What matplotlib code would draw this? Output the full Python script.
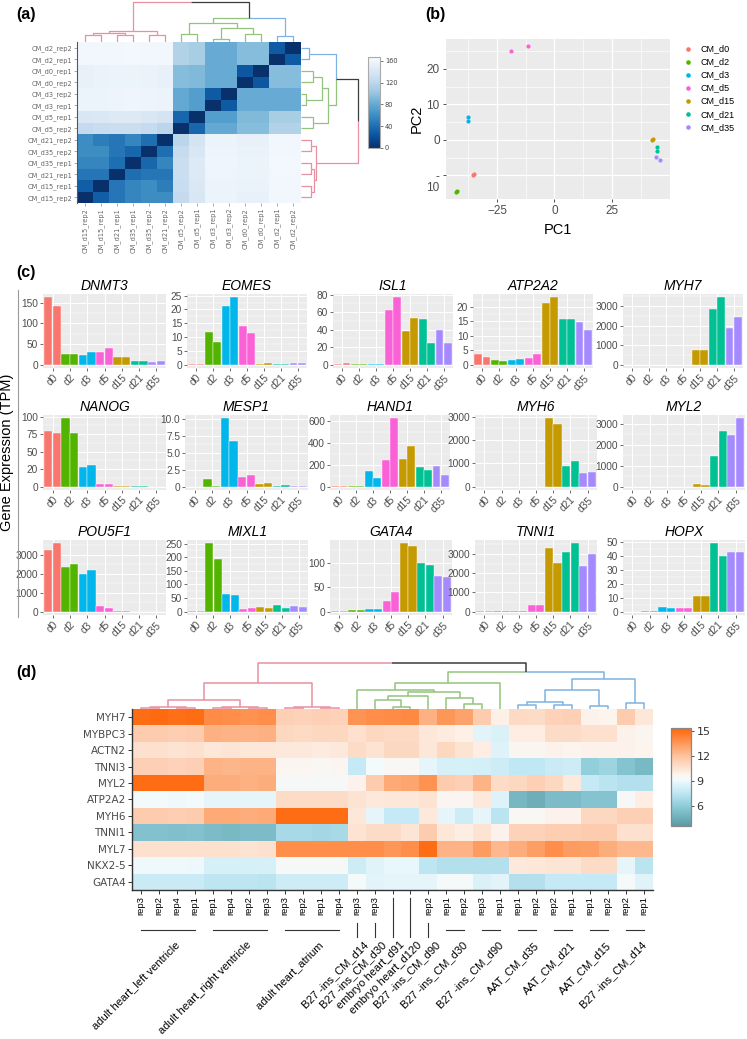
import matplotlib
matplotlib.use('Agg')
import matplotlib.pyplot as plt
import matplotlib.transforms as mtransforms
from matplotlib.colors import LinearSegmentedColormap
import numpy as np

plt.rcParams['font.family'] = ['Liberation Sans', 'DejaVu Sans']

# ---------------- (a) sample distance heatmap ----------------
# leaves in dendrogram order (columns left->right, rows bottom->top)
a_samples = ['CM_d15_rep2', 'CM_d15_rep1', 'CM_d21_rep1', 'CM_d35_rep1', 'CM_d35_rep2',
             'CM_d21_rep2', 'CM_d5_rep2', 'CM_d5_rep1', 'CM_d3_rep1', 'CM_d3_rep2',
             'CM_d0_rep2', 'CM_d0_rep1', 'CM_d2_rep1', 'CM_d2_rep2']
a_dist = [
    [0, 30, 45, 55, 60, 60, 125, 142, 158, 158, 155, 155, 162, 162],
    [30, 0, 45, 55, 60, 50, 128, 143, 158, 158, 156, 156, 162, 162],
    [45, 45, 0, 40, 45, 45, 130, 145, 159, 159, 157, 157, 163, 163],
    [55, 55, 40, 0, 35, 55, 130, 146, 160, 160, 158, 158, 164, 164],
    [60, 60, 45, 35, 0, 40, 126, 142, 159, 159, 156, 156, 163, 163],
    [60, 50, 45, 55, 40, 0, 120, 138, 157, 157, 154, 154, 162, 162],
    [125, 128, 130, 130, 126, 120, 0, 35, 80, 80, 95, 95, 115, 115],
    [142, 143, 145, 146, 142, 138, 35, 0, 72, 72, 92, 92, 110, 110],
    [158, 158, 159, 160, 159, 157, 80, 72, 0, 28, 82, 82, 82, 82],
    [158, 158, 159, 160, 159, 157, 80, 72, 28, 0, 82, 82, 82, 82],
    [155, 156, 157, 158, 156, 154, 95, 92, 82, 82, 0, 25, 95, 95],
    [155, 156, 157, 158, 156, 154, 95, 92, 82, 82, 25, 0, 95, 95],
    [162, 162, 163, 164, 163, 162, 115, 110, 82, 82, 95, 95, 0, 28],
    [162, 162, 163, 164, 163, 162, 115, 110, 82, 82, 95, 95, 28, 0],
]
# merges: (child a, child b, height) ; new nodes numbered after the leaves
a_merges = [(0, 1, 17), (2, 3, 17), (4, 5, 17), (14, 15, 23), (17, 16, 27),
            (8, 9, 8), (10, 11, 21), (6, 7, 21), (19, 20, 36), (21, 22, 47),
            (12, 13, 14), (23, 24, 61), (18, 25, 100)]
PINK, GREEN, BLUE = '#e88fa1', '#93c47d', '#7fb1e2'
a_leaf_colors = [PINK] * 6 + [GREEN] * 6 + [BLUE] * 2

# ---------------- (b) PCA ----------------
pc_groups = ['CM_d0', 'CM_d2', 'CM_d3', 'CM_d5', 'CM_d15', 'CM_d21', 'CM_d35']
pc_colors = ['#F8766D', '#53B400', '#00B6EB', '#FB61D7', '#C49A00', '#00C094', '#A58AFF']
pc1 = [[-35.5, -35.1], [-42.8, -42.3], [-37.6, -37.6], [-19.1, -11.4],
       [42.5, 42.8], [44.5, 44.6], [44.2, 45.9]]
pc2 = [[-9.9, -9.7], [-14.6, -14.3], [6.6, 5.2], [25.2, 26.4],
       [0.0, 0.3], [-2.1, -3.1], [-4.7, -5.7]]

# ---------------- (c) gene expression bars ----------------
days = ['d0', 'd2', 'd3', 'd5', 'd15', 'd21', 'd35']
genes = ['DNMT3', 'EOMES', 'ISL1', 'ATP2A2', 'MYH7',
         'NANOG', 'MESP1', 'HAND1', 'MYH6', 'MYL2',
         'POU5F1', 'MIXL1', 'GATA4', 'TNNI1', 'HOPX']
tpm = {
    'DNMT3': [163, 143, 26, 25, 23, 30, 30, 40, 18, 18, 10, 9, 6, 10],
    'EOMES': [0.05, 0.1, 11.9, 8.3, 21.2, 24.4, 14.1, 11.5, 0.2, 0.6, 0.2, 0.3, 0.5, 0.6],
    'ISL1': [1, 2, 0.2, 0.2, 0.5, 1, 62, 77, 38, 53, 52, 25, 40, 24.5],
    'ATP2A2': [3.6, 2.7, 1.6, 1.2, 1.6, 1.9, 2.4, 3.8, 21.5, 23.3, 15.8, 15.8, 14.6, 12.0],
    'MYH7': [2, 2, 1, 1, 1, 1, 3, 3, 750, 750, 2870, 3450, 1880, 2430],
    'NANOG': [79, 77, 97.6, 77, 28, 31, 3.4, 3.4, 0.3, 0.3, 0.6, 0.6, 0.1, 0.1],
    'MESP1': [0, 0, 1.1, 0.02, 10.1, 6.7, 1.4, 1.7, 0.35, 0.6, 0.02, 0.3, 0.02, 0.02],
    'HAND1': [1, 1, 2, 2, 144, 81, 240, 624, 250, 370, 175, 156, 189, 105],
    'MYH6': [1, 1, 1, 1, 1, 1, 2, 2, 2930, 2690, 880, 1100, 600, 615],
    'MYL2': [1, 1, 1, 1, 1, 1, 1, 1, 145, 96, 1480, 2660, 2455, 3260],
    'POU5F1': [3245, 3595, 2370, 2530, 1970, 2215, 314, 192, 5, 5, 3, 3, 2, 2],
    'MIXL1': [1, 3, 251, 195, 65, 60, 10, 14.6, 18, 13, 23, 12, 19.5, 16],
    'GATA4': [0.5, 1, 3.3, 2.7, 5.3, 5.0, 21, 40, 139, 133, 99, 95, 73, 70],
    'TNNI1': [10, 10, 5, 5, 15, 15, 326, 343, 3290, 2555, 3090, 3550, 2365, 3000],
    'HOPX': [0, 0, 0.3, 0.5, 3.2, 2.7, 2.5, 2.3, 11.5, 11.5, 48.9, 39.6, 43, 43],
}
yticks_c = {
    'DNMT3': [0, 50, 100, 150], 'EOMES': [0, 5, 10, 15, 20, 25], 'ISL1': [0, 20, 40, 60, 80],
    'ATP2A2': [0, 5, 10, 15, 20], 'MYH7': [0, 1000, 2000, 3000], 'NANOG': [0, 25, 50, 75, 100],
    'MESP1': [0, 2.5, 5, 7.5, 10], 'HAND1': [0, 200, 400, 600], 'MYH6': [0, 1000, 2000, 3000],
    'MYL2': [0, 1000, 2000, 3000], 'POU5F1': [0, 1000, 2000, 3000], 'MIXL1': [0, 50, 100, 150, 200, 250],
    'GATA4': [0, 50, 100], 'TNNI1': [0, 1000, 2000, 3000], 'HOPX': [0, 10, 20, 30, 40, 50],
}
ylabels_c = {'NANOG': ['0', '20', '50', '75', '100'],
             'MESP1': ['0', '2.5', '5.0', '7.5', '10.0']}

# ---------------- (d) heart / CM heatmap ----------------
d_genes = ['MYH7', 'MYBPC3', 'ACTN2', 'TNNI3', 'MYL2', 'ATP2A2', 'MYH6', 'TNNI1', 'MYL7', 'NKX2-5', 'GATA4']
d_vals = [
    [15.0, 15.1, 14.9, 15.0, 13.9, 13.8, 13.7, 13.8, 11.3, 11.2, 11.3, 11.2, 13.6, 13.8, 13.9, 14.0, 12.6, 13.5, 13.1, 11.5, 9.9, 10.9, 10.8, 11.2, 11.3, 9.8, 9.7, 11.5, 10.3],
    [11.5, 11.5, 11.4, 11.5, 12.6, 12.5, 12.5, 12.6, 11.0, 10.9, 11.0, 11.0, 10.6, 11.0, 10.9, 10.9, 10.3, 10.1, 9.9, 8.7, 8.4, 10.0, 10.0, 10.8, 10.8, 10.6, 10.6, 9.8, 9.6],
    [10.6, 10.6, 10.5, 10.6, 10.3, 10.4, 10.3, 10.3, 10.2, 10.2, 10.1, 10.2, 10.8, 10.5, 11.0, 11.0, 10.3, 11.0, 10.5, 10.0, 8.5, 9.6, 9.6, 9.8, 9.7, 9.8, 9.8, 9.8, 9.7],
    [11.3, 11.3, 11.2, 11.3, 12.5, 12.4, 12.5, 12.5, 9.6, 9.6, 9.5, 9.6, 7.8, 9.2, 9.5, 9.5, 8.8, 8.3, 8.3, 8.2, 8.0, 7.6, 7.6, 7.9, 8.0, 6.2, 6.5, 5.6, 5.1],
    [15.0, 15.0, 15.0, 15.0, 12.7, 12.7, 12.6, 12.7, 9.4, 9.4, 9.4, 9.4, 9.8, 11.5, 12.8, 13.0, 13.7, 11.5, 11.3, 12.5, 10.8, 11.0, 11.3, 11.0, 10.2, 7.8, 7.4, 7.2, 7.2],
    [9.2, 9.2, 9.1, 9.2, 8.8, 8.8, 8.8, 8.8, 10.8, 10.8, 10.8, 10.8, 10.5, 10.2, 10.3, 10.3, 10.5, 9.6, 9.6, 10.2, 8.5, 5.0, 4.6, 5.2, 5.2, 5.6, 5.6, 9.4, 10.0],
    [11.5, 11.5, 11.4, 11.5, 12.8, 12.8, 12.7, 12.8, 15.0, 15.0, 15.0, 15.0, 10.3, 8.8, 7.8, 7.8, 10.2, 8.8, 8.0, 8.8, 7.4, 9.5, 9.5, 9.8, 9.8, 11.0, 11.0, 11.3, 11.3],
    [5.5, 5.5, 5.4, 5.5, 5.2, 5.1, 5.2, 5.2, 6.8, 6.8, 6.7, 6.8, 10.5, 10.8, 10.8, 10.4, 11.5, 10.3, 10.0, 10.5, 9.8, 11.2, 11.2, 11.4, 11.4, 11.5, 11.5, 10.6, 10.6],
    [10.6, 10.6, 10.6, 10.6, 10.6, 10.6, 10.5, 10.6, 13.8, 13.8, 13.8, 13.8, 13.8, 13.8, 13.5, 13.8, 15.0, 12.5, 12.5, 13.3, 12.3, 12.7, 13.2, 13.8, 13.3, 13.2, 12.7, 12.3, 12.3],
    [9.1, 9.1, 9.1, 9.0, 8.3, 8.3, 8.3, 8.3, 9.4, 9.4, 9.4, 9.4, 8.0, 8.6, 8.9, 8.9, 7.5, 7.2, 7.2, 7.2, 7.2, 10.2, 10.3, 10.4, 10.4, 10.8, 10.8, 8.8, 7.4],
    [7.9, 7.9, 7.9, 7.9, 7.5, 7.5, 7.5, 7.4, 8.0, 8.0, 8.0, 8.0, 9.3, 8.7, 8.8, 8.8, 8.8, 9.3, 9.3, 8.4, 8.7, 7.2, 7.2, 7.8, 7.8, 7.8, 7.8, 9.3, 8.6],
]
d_reps = ['rep3', 'rep2', 'rep4', 'rep1', 'rep1', 'rep4', 'rep2', 'rep3', 'rep3', 'rep2', 'rep1', 'rep4',
          'rep3', 'rep3', '', '', 'rep2', 'rep1', 'rep2', 'rep3', 'rep1',
          'rep1', 'rep2', 'rep2', 'rep1', 'rep1', 'rep2', 'rep2', 'rep1']
d_groups = [('adult heart_left ventricle', 0, 3), ('adult heart_right ventricle', 4, 7),
            ('adult heart_atrium', 8, 11), ('B27 -ins_CM_d14', 12, 12), ('B27 -ins_CM_d30', 13, 13),
            ('embryo heart_d91', 14, 14), ('embryo heart_d120', 15, 15), ('B27 -ins_CM_d90', 16, 16),
            ('B27 -ins_CM_d30', 17, 18), ('B27 -ins_CM_d90', 19, 20), ('AAT_CM_d35', 21, 22),
            ('AAT_CM_d21', 23, 24), ('AAT_CM_d15', 25, 26), ('B27 -ins_CM_d14', 27, 28)]
d_merges = [(0, 1, 1), (2, 3, 1), (29, 30, 2), (4, 5, 1), (6, 7, 1), (32, 33, 2), (31, 34, 9),
            (8, 9, 1), (10, 11, 1), (36, 37, 2), (35, 38, 26),
            (14, 15, 2), (13, 40, 9), (41, 16, 13), (18, 19, 5), (17, 43, 11), (42, 44, 17),
            (12, 45, 19), (46, 20, 26),
            (21, 22, 4), (23, 24, 4), (48, 49, 7), (25, 26, 3), (50, 51, 19), (27, 28, 6), (52, 53, 30),
            (47, 54, 37), (39, 55, 46)]
d_leaf_colors = [PINK] * 12 + [GREEN] * 9 + [BLUE] * 8

# ---------------- figure ----------------
W, H = 747, 1039
fig = plt.figure(figsize=(W / 100, H / 100), dpi=100)


def box(x0, x1, y0, y1):
    # pixel box (left, right, top, bottom) -> figure rect
    return [x0 / W, 1 - y1 / H, (x1 - x0) / W, (y1 - y0) / H]


def draw_dendro(ax, merges, leaf_colors, vertical=True, lw=1.0):
    pos = list(range(len(leaf_colors)))
    hgt = [0.0] * len(leaf_colors)
    col = list(leaf_colors)
    for a, b, h in merges:
        mid = (pos[a] + pos[b]) / 2
        for child in (a, b):
            xs = [pos[child], pos[child], mid]
            ys = [hgt[child], h, h]
            if not vertical:
                xs, ys = ys, xs
            ax.plot(xs, ys, color=col[child], lw=lw, solid_capstyle='butt')
        pos.append(mid)
        hgt.append(h)
        col.append(col[a] if col[a] == col[b] else '#3c3c3c')
    ax.axis('off')


def panel_label(txt, x, y):
    fig.text(x / W, 1 - y / H, txt, fontsize=11.5, fontweight='bold', va='center', ha='left')


# ---- (a)
n_a = len(a_samples)
axa = fig.add_axes(box(77, 301, 42, 203))
im_a = axa.imshow(np.array(a_dist), cmap='Blues_r', vmin=0, vmax=167, origin='lower',
                  aspect='auto', interpolation='nearest')
axa.set_xticks(range(n_a))
axa.set_xticklabels(a_samples, rotation=90, fontsize=4.8, color='#666666', family='DejaVu Sans')
axa.set_yticks(range(n_a))
axa.set_yticklabels(a_samples, fontsize=4.8, color='#666666', family='DejaVu Sans')
axa.tick_params(length=2, width=0.5, color='#888888', pad=1.5)
for s in ['top', 'right', 'bottom']:
    axa.spines[s].set_visible(False)
axa.spines['left'].set_color('#555555')
axa.spines['left'].set_linewidth(0.8)

axa_top = fig.add_axes(box(77, 301, 0, 42))
draw_dendro(axa_top, a_merges, a_leaf_colors, vertical=True, lw=0.9)
axa_top.set_xlim(-0.5, n_a - 0.5)
axa_top.set_ylim(0, 105)

axa_right = fig.add_axes(box(301, 361, 42, 203))
draw_dendro(axa_right, a_merges, a_leaf_colors, vertical=False, lw=0.9)
axa_right.set_ylim(-0.5, n_a - 0.5)
axa_right.set_xlim(0, 105)

cax_a = fig.add_axes(box(368, 380, 57, 148))
cb_a = fig.colorbar(im_a, cax=cax_a, ticks=[0, 40, 80, 120, 160])
cb_a.ax.tick_params(labelsize=4.8, length=2, width=0.5, pad=1.5, colors='#444444')
for t in cb_a.ax.get_yticklabels():
    t.set_family('DejaVu Sans')
cb_a.outline.set_edgecolor('#aaaaaa')
cb_a.outline.set_linewidth(0.8)
panel_label('(a)', 16, 15)

# ---- (b)
axb = fig.add_axes(box(446, 670, 39, 199))
axb.set_facecolor('#EBEBEB')
for g, xs, ys, c in zip(pc_groups, pc1, pc2, pc_colors):
    axb.scatter(xs, ys, s=9, color=c, label=g, linewidths=0, zorder=3)
allx = np.concatenate(pc1)
ally = np.concatenate(pc2)
ex = 0.05 * (allx.max() - allx.min())
ey = 0.05 * (ally.max() - ally.min())
axb.set_xlim(allx.min() - ex, allx.max() + ex)
axb.set_ylim(ally.min() - ey, ally.max() + ey)
axb.set_xticks([-25, 0, 25])
axb.set_xticks([-37.5, -12.5, 12.5, 37.5], minor=True)
axb.set_yticks([-10, 0, 10, 20])
axb.set_yticklabels(['-', '0', '10', '20'])
axb.set_yticks([-5, 5, 15, 25], minor=True)
axb.grid(which='major', color='white', lw=0.9)
axb.grid(which='minor', color='white', lw=0.45)
axb.set_axisbelow(True)
axb.tick_params(which='major', length=2.5, width=0.6, color='#333333', labelsize=8.5,
                labelcolor='#4D4D4D', pad=2)
axb.tick_params(which='minor', length=0)
for s in axb.spines.values():
    s.set_visible(False)
axb.annotate('10', xy=(0, -10), xycoords=('axes fraction', 'data'), xytext=(-4.5, -4.5),
             textcoords='offset points', ha='right', va='top', fontsize=8.5, color='#4D4D4D')
axb.set_xlabel('PC1', fontsize=10.5, labelpad=4)
axb.set_ylabel('PC2', fontsize=10.5, labelpad=2)
axb.legend(loc='upper left', bbox_to_anchor=(1.035, 1.0), frameon=False, fontsize=6.5,
           handlelength=1.0, handletextpad=0.9, labelspacing=0.45, borderaxespad=0.2,
           markerscale=1.1)
panel_label('(b)', 425, 15)

# ---- (c)
bar_rows_y = [(294, 368), (415, 490), (540, 615)]
bar_cols_x = [[(43, 166), (187, 307), (333, 453), (473, 593), (623, 743)],
              [(43, 166), (185, 308), (330, 450), (475, 597), (623, 745)],
              [(43, 166), (187, 308), (330, 452), (475, 597), (623, 745)]]
bar_colors = [pc_colors[i // 2] for i in range(2 * len(days))]
for k, gene in enumerate(genes):
    r, c = divmod(k, 5)
    x0, x1 = bar_cols_x[r][c]
    y0, y1 = bar_rows_y[r]
    ax = fig.add_axes(box(x0, x1, y0, y1))
    ax.set_facecolor('#EBEBEB')
    vals = tpm[gene]
    xs = np.arange(len(vals))
    ax.bar(xs, vals, width=0.94, color=bar_colors, edgecolor='white', linewidth=0.3, zorder=3)
    top = max(vals)
    ax.set_ylim(-0.05 * top, 1.05 * top)
    ax.set_xlim(-0.6, len(vals) - 0.4)
    ax.set_xticks(np.arange(len(days)) * 2 + 0.5)
    ax.set_xticklabels(days, rotation=45, ha='right', rotation_mode='anchor')
    yt = yticks_c[gene]
    ax.set_yticks(yt)
    ax.set_yticklabels(ylabels_c.get(gene, [str(v) for v in yt]))
    step = yt[1] - yt[0]
    ax.set_yticks(np.arange(step / 2, 1.05 * top, step), minor=True)
    ax.grid(which='major', color='white', lw=0.7)
    ax.grid(which='minor', axis='y', color='white', lw=0.35)
    ax.set_axisbelow(True)
    ax.tick_params(which='major', length=2, width=0.5, color='#333333', labelsize=7.3,
                   labelcolor='#4D4D4D', pad=1.5)
    ax.tick_params(which='minor', length=0)
    for s in ax.spines.values():
        s.set_visible(False)
    ax.set_title(gene, style='italic', fontsize=10, pad=3)

fig.text(7 / W, 1 - 452 / H, 'Gene Expression (TPM)', rotation=90, fontsize=10.5,
         va='center', ha='center')
fig.add_artist(plt.Line2D([18 / W, 18 / W], [1 - 290 / H, 1 - 617 / H], color='#9a9a9a', lw=0.8))
panel_label('(c)', 16, 273)

# ---- (d)
n_d = len(d_reps)
cmap_d = LinearSegmentedColormap.from_list(
    'tealorange', [(0, '#5b9ba5'), (0.2, '#8ccbd7'), (0.34, '#c0e8f4'), (0.48, '#f3fbfd'),
                   (0.52, '#fdf5ef'), (0.72, '#fdc19c'), (1, '#ff6508')])
axd = fig.add_axes(box(132, 653, 709, 890))
im_d = axd.imshow(np.array(d_vals), cmap=cmap_d, vmin=3.6, vmax=15.3, aspect='auto',
                  interpolation='nearest')
axd.set_yticks(range(len(d_genes)))
axd.set_yticklabels(d_genes, fontsize=7.5, color='#4a4a4a', family='DejaVu Sans')
axd.set_xticks(range(n_d))
axd.set_xticklabels(d_reps, rotation=90, fontsize=6.8)
axd.tick_params(length=3, width=0.7, color='#333333', pad=1.5)
for s in ['top', 'right']:
    axd.spines[s].set_visible(False)
for s in ['left', 'bottom']:
    axd.spines[s].set_color('#333333')
    axd.spines[s].set_linewidth(1.0)

# group brackets and names below the rep labels
axh = 181.0  # axes height in px
tr = mtransforms.blended_transform_factory(axd.transData, axd.transAxes)
for name, i0, i1 in d_groups:
    if i1 > i0:
        axd.plot([i0, i1], [-40 / axh, -40 / axh], color='#333333', lw=0.8,
                 transform=tr, clip_on=False)
    else:
        top_y = -33 / axh if d_reps[i0] else -8 / axh
        axd.plot([i0, i0], [top_y, -47 / axh], color='#333333', lw=0.8,
                 transform=tr, clip_on=False)
    axd.text((i0 + i1) / 2 + 0.35, -50 / axh, name, rotation=45, ha='right', va='top',
             rotation_mode='anchor', fontsize=8, transform=tr, clip_on=False)

axd_top = fig.add_axes(box(132, 653, 660, 709))
draw_dendro(axd_top, d_merges, d_leaf_colors, vertical=True, lw=1.1)
axd_top.set_xlim(-0.5, n_d - 0.5)
axd_top.set_ylim(0, 49)

cax_d = fig.add_axes(box(671, 691, 728, 826))
cb_d = fig.colorbar(im_d, cax=cax_d, ticks=[6, 9, 12, 15])
cb_d.ax.tick_params(labelsize=8, length=2.5, width=0.6, pad=1.5, colors='#333333')
for t in cb_d.ax.get_yticklabels():
    t.set_family('DejaVu Sans')
cb_d.outline.set_edgecolor('#888888')
cb_d.outline.set_linewidth(0.9)
panel_label('(d)', 16, 672)

fig.savefig('out.png', dpi=100)
